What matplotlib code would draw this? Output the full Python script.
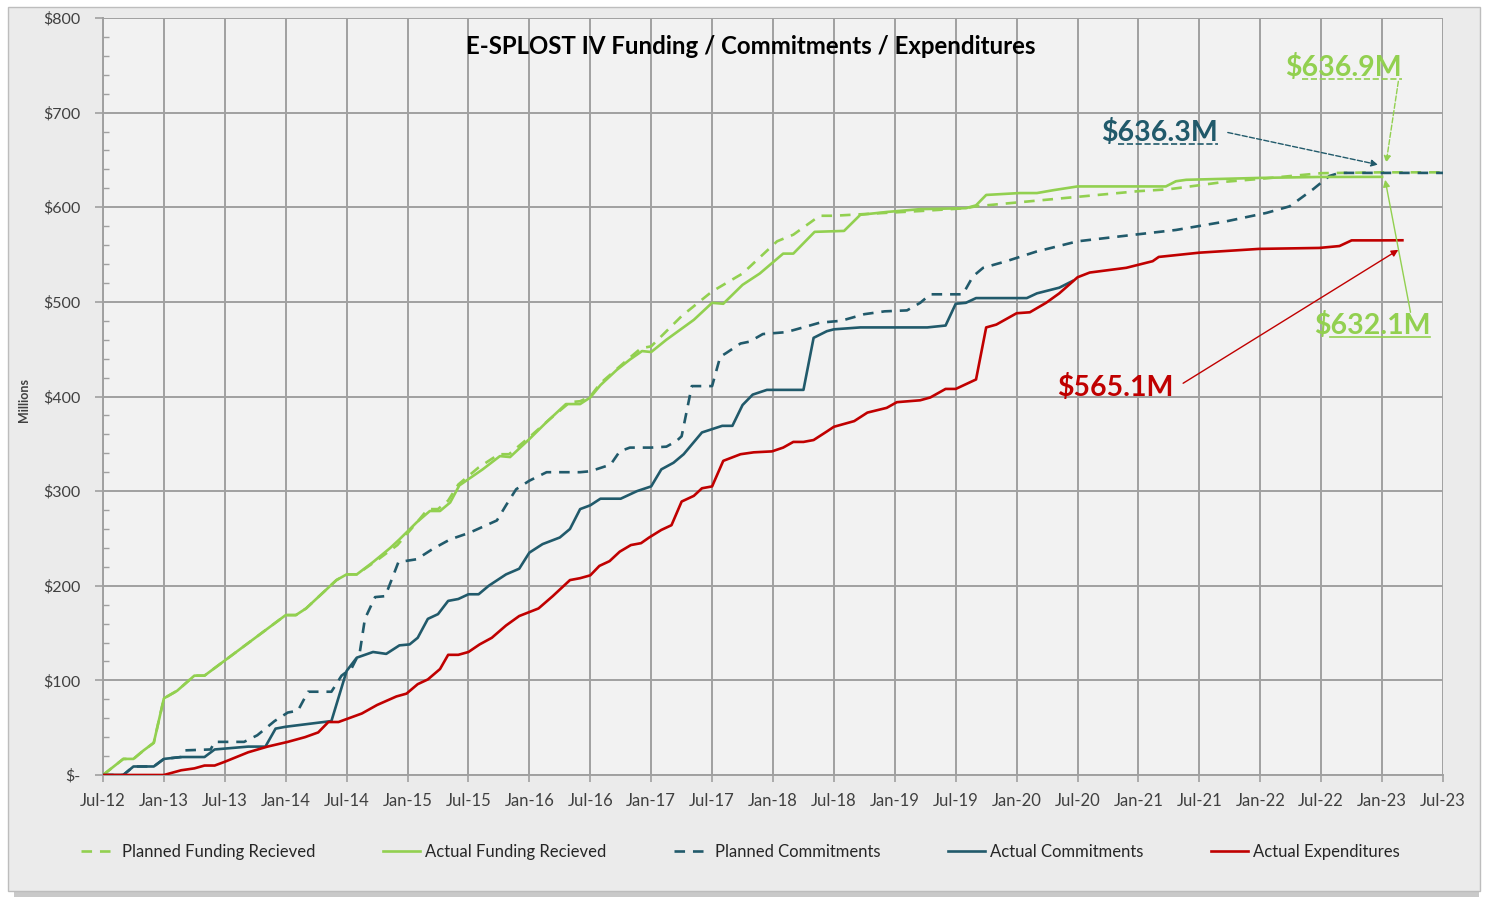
import matplotlib
matplotlib.use('Agg')
import matplotlib.pyplot as plt
from matplotlib.patches import Rectangle
from matplotlib.lines import Line2D

plt.rcParams['font.family'] = ['Lato', 'DejaVu Sans']

# ---------------- data (x = months since Jul-12) ----------------
tick_labels = ['Jul-12', 'Jan-13', 'Jul-13', 'Jan-14', 'Jul-14', 'Jan-15', 'Jul-15', 'Jan-16',
               'Jul-16', 'Jan-17', 'Jul-17', 'Jan-18', 'Jul-18', 'Jan-19', 'Jul-19', 'Jan-20',
               'Jul-20', 'Jan-21', 'Jul-21', 'Jan-22', 'Jul-22', 'Jan-23', 'Jul-23']
y_ticks = [0, 100, 200, 300, 400, 500, 600, 700, 800]
y_labels = ['$-', '$100', '$200', '$300', '$400', '$500', '$600', '$700', '$800']

pf_x = [0, 2, 3, 4, 5, 6, 7.3, 9, 10, 18, 19, 20, 23, 24, 25, 27, 29, 31, 32, 33, 34, 35, 37, 39, 40,
        42, 44, 46, 47, 48, 49, 52, 53, 54, 57, 60, 63, 66.4, 68, 70.6, 72, 77, 80.5, 85, 86, 90, 96,
        102, 105, 110.6, 114, 117, 120, 126, 132]
pf_y = [0, 17, 17, 26, 34, 81, 89, 105, 105, 169, 169, 176, 206, 212, 212, 227, 243, 268, 281, 281,
        290, 307, 325, 339, 339, 357, 376, 394, 395, 400, 414, 442, 451, 453, 485, 511, 530, 564, 571,
        591, 591, 594, 596, 599, 601, 605, 611, 617, 619, 627, 630, 633, 636, 636.9, 636.9]

af_x = [0, 2, 3, 4, 5, 6, 7.3, 9, 10, 18, 19, 20, 23, 24, 25, 26.6, 28.3, 29.2, 30.9, 32.2, 33.2, 34.2,
        35.1, 37.4, 39.1, 40.1, 42, 43.7, 45.6, 47, 48, 49, 50.6, 51.9, 53.1, 54, 55.5, 58.2, 60, 61.1,
        63, 64.7, 67, 68, 70.1, 73, 74.6, 77.2, 80.5, 85, 86, 87, 90.3, 92, 93.6, 96, 104.7, 105.7,
        106.7, 113.9, 119.8, 126]
af_y = [0, 17, 17, 26, 34, 81, 89, 105, 105, 169, 169, 176, 206, 212, 212, 225, 240, 249, 267, 279,
        279, 288, 306, 323, 337, 336, 355, 373, 392, 392, 399, 412, 428, 439, 448, 447, 460, 481, 499,
        498, 518, 530, 551, 551, 574, 575, 592, 595, 598, 599, 602, 613, 615, 615, 618, 622, 622,
        627.5, 629, 631, 632.0, 632.1]

pc_x = [0, 2, 3, 5, 6, 7.7, 8, 10.6, 11, 13.9, 15.2, 16.9, 18.2, 19.2, 20.2, 22.5, 23.5, 24.5, 25.3,
        25.8, 26.8, 27.8, 28.6, 29.1, 30.9, 32.5, 34.2, 36.1, 38.8, 39.7, 40.7, 42, 43.7, 47, 48, 50,
        50.9, 51.9, 54, 55.5, 56.5, 57, 58, 60, 60.8, 61.4, 62.8, 63.7, 65, 67.3, 69.3, 70.6, 72.7, 75,
        77, 79.2, 80.5, 81.5, 84.7, 85.7, 86.7, 89, 91.9, 96, 100.8, 105.7, 110.6, 114.6, 116.9, 119.2,
        120.8, 121.8, 132]
pc_y = [0, 0, 9, 9, 17, 19, 26, 27, 35, 35, 42, 57, 66, 68, 88, 88, 105, 113, 130, 165, 188, 189, 211,
        225, 228, 239, 249, 256, 269, 285, 302, 311, 320, 320, 321, 328, 342, 346, 346, 347, 353, 358,
        411, 411, 442, 446, 456, 458, 466, 468, 474, 478, 480, 487, 490, 491, 499, 508, 508, 527, 536,
        543, 553, 564, 570, 576, 585, 594, 601, 619, 633, 636.3, 636.3]

ac_x = [0, 2, 3, 5, 6, 7.7, 10, 11, 14.3, 16, 17, 18, 22.5, 24, 25, 26.6, 27.9, 29.2, 30.2, 31, 32, 33,
        34, 35, 36, 37, 38, 39.7, 41, 42, 43.3, 45, 46, 47, 48, 49, 51, 52.6, 54, 55, 56.2, 57.2, 59,
        61, 62, 63, 64, 65.4, 69, 70, 71.3, 72, 74.6, 81.2, 83, 84, 85, 86, 91, 92, 94.2, 95.5]
ac_y = [0, 0, 9, 9, 17, 19, 19, 27, 30, 30, 49, 51, 57, 110, 124, 130, 128, 137, 138, 145, 165, 170,
        184, 186, 191, 191, 200, 212, 218, 235, 244, 251, 260, 281, 285, 292, 292, 300, 305, 323, 330,
        339, 362, 369, 369, 391, 402, 407, 407, 462, 469, 471, 473, 473, 475, 498, 499, 504, 504, 509,
        515, 522]

ae_x = [0, 6, 7.7, 9, 10, 11, 12, 14.3, 16.2, 18.2, 19.9, 21.2, 22.2, 23.2, 25.5, 27, 28.9, 29.9, 31,
        32, 33.2, 34, 35, 36, 37.1, 38.3, 39.7, 41, 42.9, 44.3, 46, 47, 48, 48.9, 49.9, 50.9, 52, 53,
        53.8, 55, 56, 57, 58.2, 59, 60, 61.1, 62.8, 64.1, 65.9, 67, 68, 69, 70, 71.3, 72, 74, 75.3,
        77.2, 78.2, 80.5, 81.5, 83, 84, 86, 87, 88, 90, 91.3, 92.9, 94.2, 96, 97.2, 100.8, 103.4, 104,
        108, 113.9, 119.8, 121.8, 123, 126, 128]
ae_y = [0, 0, 5, 7, 10, 10, 14, 24, 30, 35, 40, 45, 56, 56, 65, 74, 83, 86, 96, 101, 112, 127, 127,
        130, 138, 145, 158, 168, 176, 189, 206, 208, 211, 221, 226, 236, 243, 245, 251, 259, 264, 289,
        295, 303, 305, 332, 339, 341, 342, 346, 352, 352, 354, 363, 368, 374, 383, 388, 394, 396, 399,
        408, 408, 418, 473, 476, 488, 489, 499, 509, 526, 531, 536, 543, 547.5, 552, 556, 557, 559,
        565, 565, 565.1]

series_names = ['Planned Funding Recieved', 'Actual Funding Recieved', 'Planned Commitments',
                'Actual Commitments', 'Actual Expenditures']

GREEN = '#92D050'
NAVY = '#215A6B'
RED = '#C00000'
GRID = '#A0A0A0'

W, H = 1489, 899
fig = plt.figure(figsize=(W / 100, H / 100), dpi=100)
fig.patch.set_facecolor('white')

# chart area background with a soft shadow
shadow = Rectangle((14 / W, 2 / H), (1475 - 10) / W, (890 - 2) / H, transform=fig.transFigure,
                   facecolor='#C9C9C9', edgecolor='none', zorder=-11)
bg = Rectangle((8 / W, 8 / H), (1480 - 8) / W, (892 - 8) / H, transform=fig.transFigure,
               facecolor='#EBEBEB', edgecolor='#BDBDBD', lw=1.0, zorder=-10)
fig.patches.extend([shadow, bg])

ax = fig.add_axes([103 / W, 1 - 775 / H, 1340 / W, 757 / H])
ax.set_facecolor('#F2F2F2')
ax.set_xlim(0, 132)
ax.set_ylim(0, 800)

ax.set_xticks(range(0, 133, 6))
ax.set_xticklabels(tick_labels)
ax.set_yticks(y_ticks)
ax.set_yticklabels(y_labels)
ax.set_yticks(range(0, 801, 20), minor=True)
ax.grid(True, which='major', color=GRID, lw=1.4)
ax.set_axisbelow(True)
ax.tick_params(axis='y', which='major', direction='out', length=6, width=1.2, color=GRID,
               labelsize=11.5, pad=10, labelcolor='#404040')
ax.tick_params(axis='y', which='minor', direction='in', length=4, width=1.0, color=GRID)
ax.tick_params(axis='x', which='major', direction='out', length=5, width=1.2, color=GRID,
               labelsize=12, pad=8, labelcolor='#404040')
for s in ['top', 'right']:
    ax.spines[s].set_visible(False)
for s in ['left', 'bottom']:
    ax.spines[s].set_color(GRID)
    ax.spines[s].set_linewidth(1.4)

lw = 1.9
l1, = ax.plot(pf_x, pf_y, color=GREEN, lw=lw, dashes=(4, 3), label=series_names[0], zorder=3)
l2, = ax.plot(af_x, af_y, color=GREEN, lw=lw, label=series_names[1], zorder=4)
l3, = ax.plot(pc_x, pc_y, color=NAVY, lw=lw, dashes=(4, 3), label=series_names[2], zorder=3)
l4, = ax.plot(ac_x, ac_y, color=NAVY, lw=lw, label=series_names[3], zorder=4)
l5, = ax.plot(ae_x, ae_y, color=RED, lw=lw, label=series_names[4], zorder=5)

fig.text(751 / W, 1 - 47 / H, 'E-SPLOST IV Funding / Commitments / Expenditures',
         ha='center', va='center', fontsize=17.3, fontweight='bold', color='black')
fig.text(24 / W, 1 - 400 / H, 'Millions', rotation=90, ha='center', va='center',
         fontsize=9, fontweight='bold', color='#404040')

# annotations
ann_specs = [
    ('$636.9M', GREEN, (122.2, 748), (126.4, 647), (127.6, 733), '--', 'dashed'),
    ('$636.3M', NAVY, (104.1, 679), (125.6, 645), (110.8, 679), '--', 'dashed'),
    ('$632.1M', GREEN, (125.0, 475), (126.3, 629), (128.8, 489), '-', 'solid'),
    ('$565.1M', RED, (99.7, 410), (127.6, 555), (106.4, 414), '-', None),
]
texts = []
for txt, col, tpos, target, start, ls, ul in ann_specs:
    t = ax.text(tpos[0], tpos[1], txt, color=col, fontsize=20.5, fontweight='bold',
                ha='center', va='center', zorder=6)
    ax.annotate('', xy=target, xytext=start,
                arrowprops=dict(arrowstyle='-|>', color=col, lw=1.0, linestyle=ls,
                                mutation_scale=10, shrinkA=0, shrinkB=0), zorder=6)
    texts.append((t, col, ul))

fig.canvas.draw()
inv = fig.transFigure.inverted()
for t, col, ul in texts:
    if ul is None:
        continue
    bb = t.get_window_extent().transformed(inv)
    x0 = bb.x0 + 0.14 * bb.width
    yline = bb.y0 + 0.08 * bb.height
    fig.add_artist(Line2D([x0, bb.x1], [yline, yline], transform=fig.transFigure, color=col,
                          lw=1.2, linestyle='--' if ul == 'dashed' else '-', zorder=7))

fig.legend(handles=[l1, l2, l3, l4, l5], loc='center', bbox_to_anchor=(0.497, 1 - 852 / H),
           ncol=5, frameon=False, fontsize=12, handlelength=2.2, handletextpad=0.3,
           columnspacing=4.05, labelcolor='#262626')

fig.savefig('out.png', dpi=100, facecolor=fig.get_facecolor())
